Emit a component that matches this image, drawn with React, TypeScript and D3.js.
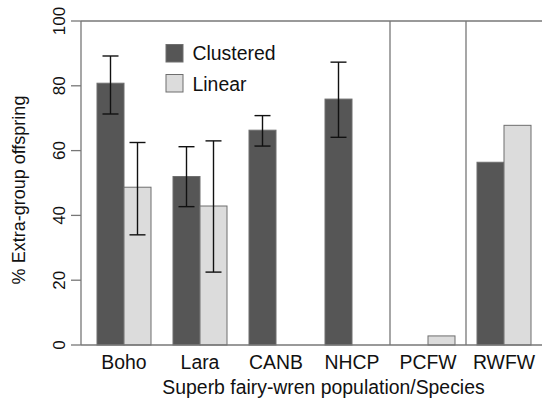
import React from "react";
import * as d3 from "d3";

const categories = ["Boho", "Lara", "CANB", "NHCP", "PCFW", "RWFW"];
const series = ["Clustered", "Linear"];
const clustered: (number | null)[] = [80.8, 52, 66.3, 75.9, 0, 56.4];
const linear: (number | null)[] = [48.7, 42.9, null, null, 2.8, 67.8];
const clusteredLow: (number | null)[] = [71.3, 42.7, 61.4, 64.1, null, null];
const clusteredHigh: (number | null)[] = [89.2, 61.2, 70.8, 87.3, null, null];
const linearLow: (number | null)[] = [34.0, 22.5, null, null, null, null];
const linearHigh: (number | null)[] = [62.5, 63.0, null, null, null, null];
const yTicks = [0, 20, 40, 60, 80, 100];
const separatorsAfter = ["NHCP", "PCFW"];

const W = 542;
const H = 403;
const FONT = "'Liberation Sans', Arial, Helvetica, sans-serif";
const FILLS = ["#565656", "#dcdcdc"];
const STROKE = "#6e6e6e";

export default function App() {
  const left = 81, top = 21, bottom = 345;
  const x = d3
    .scaleBand<string>()
    .domain(categories)
    .range([86, 542])
    .paddingInner(22 / 76)
    .paddingOuter(11 / 76);
  const xs = d3.scaleBand<string>().domain(series).range([0, x.bandwidth()]);
  const y = d3.scaleLinear().domain([0, 100]).range([bottom, top]);

  const values = [clustered, linear];
  const lows = [clusteredLow, linearLow];
  const highs = [clusteredHigh, linearHigh];
  const capW = 16;

  return (
    <svg width={W} height={H} style={{ position: "absolute", left: 0, top: 0 }} fontFamily={FONT}>
      <rect x={0} y={0} width={W} height={H} fill="#fff" />
      {series.map((s, si) =>
        categories.map((c, ci) => {
          const v = values[si][ci];
          if (v === null || v === 0) return null;
          return (
            <rect
              key={s + c}
              x={(x(c) as number) + (xs(s) as number)}
              y={y(v)}
              width={xs.bandwidth()}
              height={y(0) - y(v)}
              fill={FILLS[si]}
              stroke={STROKE}
              strokeWidth={1}
            />
          );
        })
      )}
      {series.map((s, si) =>
        categories.map((c, ci) => {
          const lo = lows[si][ci];
          const hi = highs[si][ci];
          if (lo === null || hi === null) return null;
          const cx = (x(c) as number) + (xs(s) as number) + xs.bandwidth() / 2;
          return (
            <g key={"e" + s + c} stroke="#111" strokeWidth={1.4}>
              <line x1={cx} x2={cx} y1={y(lo)} y2={y(hi)} />
              <line x1={cx - capW / 2} x2={cx + capW / 2} y1={y(lo)} y2={y(lo)} />
              <line x1={cx - capW / 2} x2={cx + capW / 2} y1={y(hi)} y2={y(hi)} />
            </g>
          );
        })
      )}
      {separatorsAfter.map((c) => {
        const i = categories.indexOf(c);
        const sx = ((x(c) as number) + x.bandwidth() + (x(categories[i + 1]) as number)) / 2;
        return <line key={"s" + c} x1={sx} x2={sx} y1={top} y2={bottom} stroke="#777" strokeWidth={1.3} />;
      })}
      <line x1={left} x2={W + 5} y1={top} y2={top} stroke="#777" strokeWidth={1.3} />
      <line x1={left} x2={W + 5} y1={bottom} y2={bottom} stroke="#777" strokeWidth={1.3} />
      <line x1={left} x2={left} y1={top} y2={bottom} stroke="#777" strokeWidth={1.3} />
      {yTicks.map((t) => (
        <g key={"t" + t}>
          <line x1={left - 10} x2={left} y1={y(t)} y2={y(t)} stroke="#777" strokeWidth={1.3} />
          <text
            transform={`translate(65,${y(t)}) rotate(-90)`}
            textAnchor="middle"
            fontSize={17}
            fill="#111"
          >
            {t}
          </text>
        </g>
      ))}
      {categories.map((c) => (
        <text key={"l" + c} x={(x(c) as number) + x.bandwidth() / 2} y={369} textAnchor="middle" fontSize={19.4} fill="#111">
          {c}
        </text>
      ))}
      <text x={323.5} y={394} textAnchor="middle" fontSize={19.4} fill="#111">
        Superb fairy-wren population/Species
      </text>
      <text transform={`translate(25,190) rotate(-90)`} textAnchor="middle" fontSize={18} fill="#111">
        % Extra-group offspring
      </text>
      {series.map((s, si) => (
        <g key={"lg" + s}>
          <rect x={166} y={44.5 + si * 30} width={17} height={17.5} fill={FILLS[si]} stroke={STROKE} strokeWidth={1} />
          <text x={192.5} y={60 + si * 30.5} fontSize={19.4} fill="#111">
            {s}
          </text>
        </g>
      ))}
    </svg>
  );
}
